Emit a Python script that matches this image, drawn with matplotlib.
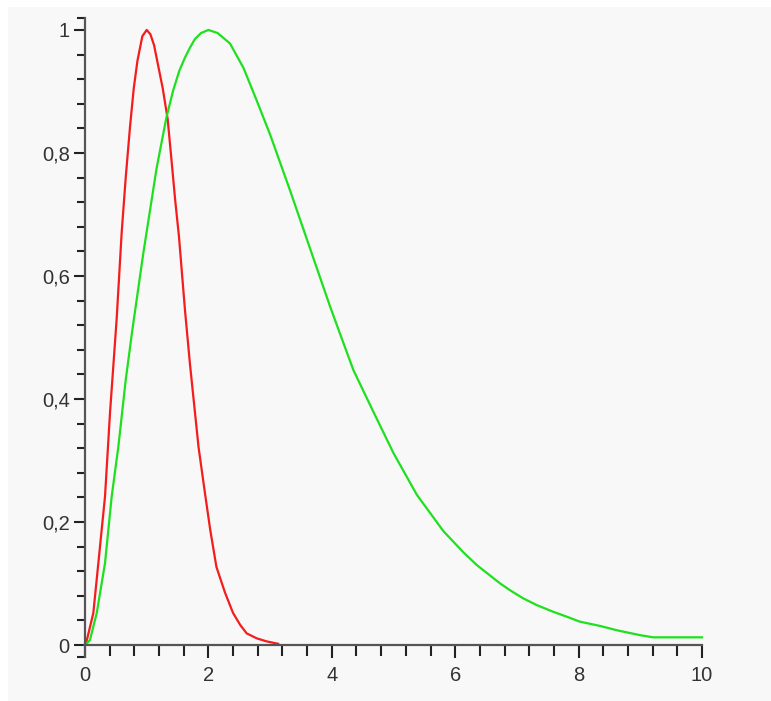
import numpy as np
import matplotlib
matplotlib.use('Agg')
import matplotlib.pyplot as plt
from matplotlib.patches import Rectangle

# values
red_x = [0.0, 0.03, 0.135, 0.216, 0.324, 0.405, 0.513, 0.594, 0.66, 0.73, 0.79, 0.85,
         0.93, 1.0, 1.06, 1.12, 1.18, 1.26, 1.34, 1.405, 1.46, 1.523, 1.62, 1.70,
         1.84, 1.94, 2.03, 2.13, 2.27, 2.40, 2.52, 2.62, 2.78, 2.94, 3.13]
red_y = [0.0, 0.008, 0.052, 0.133, 0.241, 0.377, 0.53, 0.67, 0.76, 0.843, 0.905, 0.95,
         0.99, 1.0, 0.993, 0.975, 0.945, 0.905, 0.855, 0.785, 0.725, 0.664, 0.545, 0.458,
         0.322, 0.25, 0.187, 0.127, 0.085, 0.052, 0.032, 0.019, 0.011, 0.006, 0.002]

green_x = [0.0, 0.08, 0.19, 0.324, 0.432, 0.54, 0.66, 0.767, 0.945, 1.16, 1.32, 1.43,
           1.53, 1.62, 1.70, 1.78, 1.88, 2.0, 2.15, 2.35, 2.57, 2.78, 3.0, 3.16,
           3.32, 3.54, 3.76, 3.97, 4.13, 4.35, 4.67, 5.0, 5.38, 5.81, 6.13, 6.35,
           6.73, 6.89, 7.10, 7.32, 7.59, 7.81, 8.02, 8.35, 8.62, 9.0, 9.21, 10.0]
green_y = [0.0, 0.008, 0.052, 0.133, 0.241, 0.322, 0.431, 0.512, 0.637, 0.775, 0.858, 0.902,
           0.934, 0.955, 0.971, 0.985, 0.995, 1.0, 0.995, 0.978, 0.938, 0.886, 0.830, 0.785,
           0.740, 0.676, 0.612, 0.551, 0.507, 0.447, 0.380, 0.312, 0.244, 0.185, 0.151, 0.130,
           0.100, 0.089, 0.076, 0.065, 0.054, 0.046, 0.038, 0.031, 0.024, 0.016, 0.0125, 0.0125]

x_major = [0, 2, 4, 6, 8, 10]
x_labels = ['0', '2', '4', '6', '8', '10']
y_major = [0, 0.2, 0.4, 0.6, 0.8, 1]
y_labels = ['0', '0,2', '0,4', '0,6', '0,8', '1']

plt.rcParams['font.family'] = ['Liberation Sans', 'DejaVu Sans']

fig = plt.figure(figsize=(7.71, 7.01), dpi=100, facecolor='white')
fig.patches.append(Rectangle((8 / 771, 0), 1, 1 - 7 / 701, transform=fig.transFigure,
                             facecolor='#f8f8f8', edgecolor='none', zorder=-10))

ax = fig.add_axes([85 / 771, 0.0623, 617 / 771, 0.9125])
ax.set_facecolor('none')

ax.plot(red_x, red_y, color='#f41c1c', lw=1.6, clip_on=False)
ax.plot(green_x, green_y, color='#1ee01e', lw=1.6, clip_on=False)

ax.set_xlim(0, 10)
ax.set_ylim(-0.02, 1.02)

for s in ['top', 'right']:
    ax.spines[s].set_visible(False)
ax.spines['bottom'].set_position(('data', 0))
ax.spines['left'].set_position(('data', 0))
for s in ['bottom', 'left']:
    ax.spines[s].set_color('#555555')
    ax.spines[s].set_linewidth(1.6)
    ax.spines[s].set_zorder(3)

ax.set_xticks(x_major)
ax.set_xticklabels(x_labels)
ax.set_xticks([v for v in np.arange(0.4, 10, 0.4) if abs(v / 2 - round(v / 2)) > 1e-6], minor=True)
ax.set_yticks(y_major)
ax.set_yticklabels(y_labels)
ax.set_yticks([-0.02, 1.02] + [v for v in np.arange(0.04, 1.0, 0.04)
                               if abs(v / 0.2 - round(v / 0.2)) > 1e-6], minor=True)

ax.tick_params(axis='both', which='both', direction='out', color='#222222', width=1.5,
               labelsize=14.5, labelcolor='#333333')
ax.tick_params(axis='x', which='major', length=9, pad=6)
ax.tick_params(axis='x', which='minor', length=8)
ax.tick_params(axis='y', which='major', length=8, pad=3)
ax.tick_params(axis='y', which='minor', length=6)

fig.savefig('out.png', dpi=100, facecolor=fig.get_facecolor())
